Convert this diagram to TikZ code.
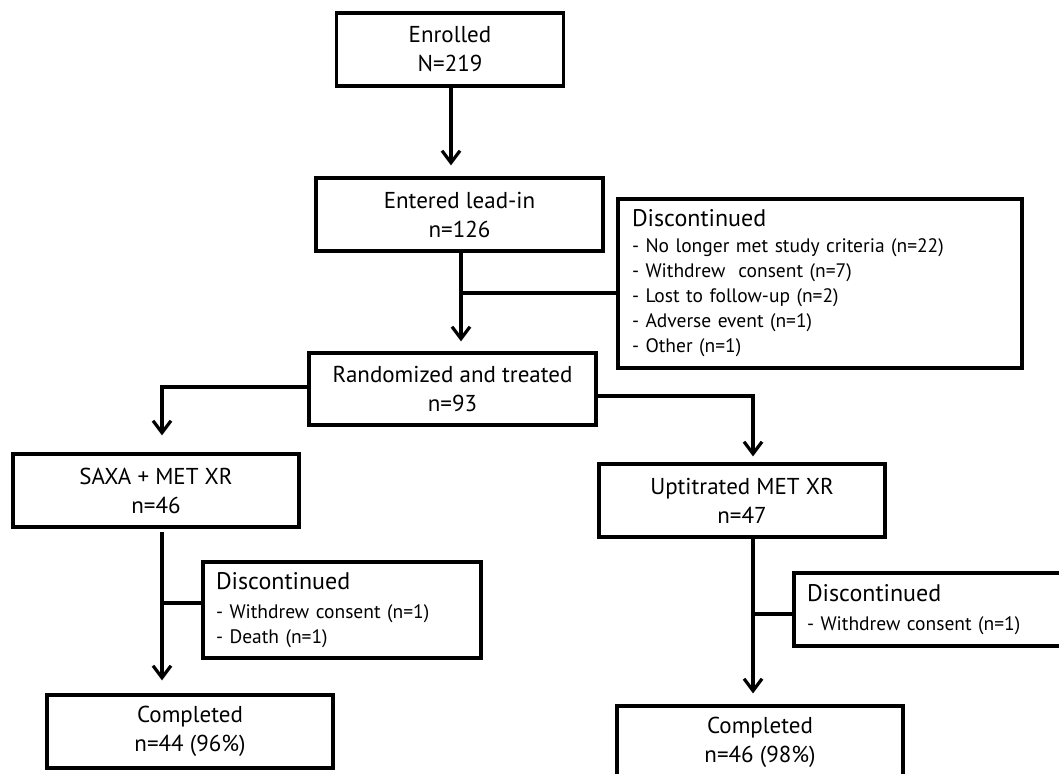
\documentclass[tikz,border=0pt]{standalone}
\usepackage{fontspec}
\setmainfont{PT Sans}
\usetikzlibrary{arrows.meta}
\begin{document}
\begin{tikzpicture}[x=1pt,y=-1pt,
  box/.style={draw, line width=3.2pt, align=center, inner sep=0pt, font=\fontsize{23}{29}\selectfont},
  disc/.style={draw, line width=3.2pt, align=left, inner sep=0pt, font=\fontsize{19.5}{25}\selectfont},
  hd/.style={},
  arr/.style={line width=3.2pt, -{Straight Barb[length=12pt,width=18pt]}},
  ln/.style={line width=4pt}]
\useasboundingbox (0,0) rectangle (1059,773);
\clip (0,0) rectangle (1059,773);
\node[box, minimum width=227pt, minimum height=73pt] (enr) at (450,49.5) {Enrolled\\N=219};
\node[box, minimum width=287pt, minimum height=73pt] (ent) at (459.5,214.5) {Entered lead-in\\n=126};
\node[disc, minimum width=404pt, minimum height=169pt, text width=376pt] (dbig) at (820,283.5)
  {{\fontsize{24}{25}\selectfont Discontinued}\\[1pt]
   - No longer met study criteria (n=22)\\
   - Withdrew\ \ consent (n=7)\\
   - Lost to follow-up (n=2)\\
   - Adverse event (n=1)\\
   - Other (n=1)};
\node[box, minimum width=287pt, minimum height=72pt] (rand) at (452.5,389) {Randomized and treated\\n=93};
\node[box, minimum width=286pt, minimum height=73pt] (saxa) at (156,490.5) {SAXA + MET XR\\n=46};
\node[box, minimum width=286pt, minimum height=73pt] (upt) at (742,500.5) {Uptitrated MET XR\\n=47};
\node[disc, minimum width=278pt, minimum height=96pt, text width=252pt] (dl) at (342,610)
  {{\fontsize{24}{25}\selectfont Discontinued}\\[4pt]
   - Withdrew consent (n=1)\\
   - Death (n=1)};
\node[disc, minimum width=306pt, minimum height=73pt, text width=280pt] (dr) at (947,609.5)
  {{\fontsize{24}{25}\selectfont Discontinued}\\[4pt]
   - Withdrew consent (n=1)};
\node[box, minimum width=286pt, minimum height=73pt] (cl) at (190,731.5) {Completed\\n=44 (96\%)};
\node[box, minimum width=286pt, minimum height=73pt] (cr) at (760,742.5) {Completed\\n=46 (98\%)};
% connectors
\draw[arr, shorten >=11pt] ([xshift=1pt]enr.south) -- ([xshift=1pt]enr.south |- ent.north);
\draw[arr, shorten >=10pt] ([xshift=1.5pt]ent.south) -- ([xshift=1.5pt]ent.south |- rand.north);
\coordinate (b1) at ([yshift=-9.5pt]dbig.west);
\draw[ln] (b1) -- (461,0 |- b1);
\draw[arr, shorten >=17pt] ([yshift=2pt]rand.west) -| ([xshift=6pt]saxa.north);
\draw[arr, shorten >=6pt] ([yshift=-7pt]rand.east) -| ([xshift=11pt]upt.north);
\coordinate (l1) at (162,532);
\draw[arr, shorten >=13pt] (l1) -- (l1 |- cl.north);
\coordinate (b2) at ([yshift=7pt]dl.west);
\draw[ln] (b2) -- (l1 |- b2);
\coordinate (r1) at ([xshift=11pt]upt.south);
\draw[arr, shorten >=11pt] (r1) -- (r1 |- cr.north);
\coordinate (b3) at ([yshift=-4.5pt]dr.west);
\draw[ln] (b3) -- (r1 |- b3);
\end{tikzpicture}
\end{document}
